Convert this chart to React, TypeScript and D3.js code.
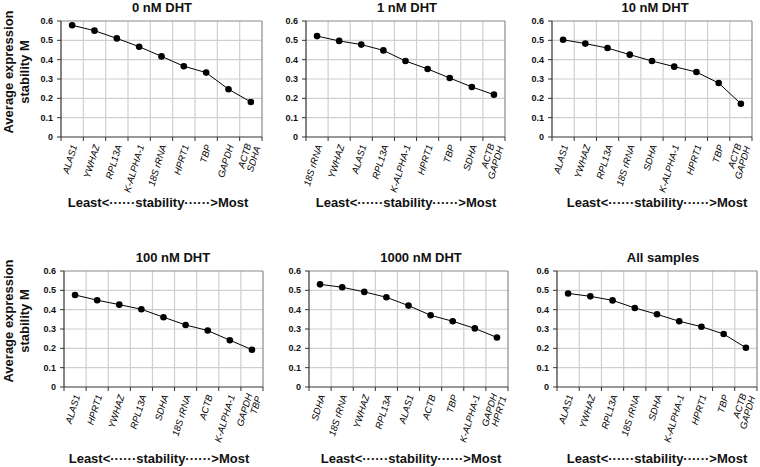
import React from "react";
import * as d3 from "d3";

// ---- data ----
const panelTitles = ["0 nM DHT", "1 nM DHT", "10 nM DHT", "100 nM DHT", "1000 nM DHT", "All samples"];

const genes0 = ["ALAS1", "YWHAZ", "RPL13A", "K-ALPHA-1", "18S rRNA", "HPRT1", "TBP", "GAPDH", "ACTB\nSDHA"];
const values0 = [0.578, 0.55, 0.51, 0.467, 0.417, 0.366, 0.333, 0.247, 0.181];

const genes1 = ["18S rRNA", "YWHAZ", "ALAS1", "RPL13A", "K-ALPHA-1", "HPRT1", "TBP", "SDHA", "ACTB\nGAPDH"];
const values1 = [0.522, 0.497, 0.478, 0.448, 0.393, 0.352, 0.305, 0.259, 0.219];

const genes10 = ["ALAS1", "YWHAZ", "RPL13A", "18S rRNA", "SDHA", "K-ALPHA-1", "HPRT1", "TBP", "ACTB\nGAPDH"];
const values10 = [0.503, 0.483, 0.46, 0.426, 0.393, 0.364, 0.336, 0.279, 0.172];

const genes100 = ["ALAS1", "HPRT1", "YWHAZ", "RPL13A", "SDHA", "18S rRNA", "ACTB", "K-ALPHA-1", "GAPDH\nTBP"];
const values100 = [0.476, 0.449, 0.426, 0.402, 0.361, 0.321, 0.292, 0.242, 0.193];

const genes1000 = ["SDHA", "18S rRNA", "YWHAZ", "RPL13A", "ALAS1", "ACTB", "TBP", "K-ALPHA-1", "GAPDH\nHPRT1"];
const values1000 = [0.531, 0.516, 0.492, 0.464, 0.421, 0.371, 0.34, 0.303, 0.256];

const genesAll = ["ALAS1", "YWHAZ", "RPL13A", "18S rRNA", "SDHA", "K-ALPHA-1", "HPRT1", "TBP", "ACTB\nGAPDH"];
const valuesAll = [0.484, 0.469, 0.448, 0.409, 0.376, 0.34, 0.312, 0.274, 0.203];

const yTicks = [0, 0.1, 0.2, 0.3, 0.4, 0.5, 0.6];
const yAxisTitle = ["Average expression", "stability M"];
const xAxisTitle = "Least<······stability······>Most";

const panelGenes = [genes0, genes1, genes10, genes100, genes1000, genesAll];
const panelValues = [values0, values1, values10, values100, values1000, valuesAll];

// ---- layout ----
const layout = [
  { x0: 61, x1: 262, y0: 21, y1: 137, tx: 162, ty: 12, sx: 158, sy: 207 },
  { x0: 306, x1: 505, y0: 21, y1: 137, tx: 407, ty: 12, sx: 406, sy: 207 },
  { x0: 552, x1: 752, y0: 21, y1: 137, tx: 655, ty: 12, sx: 657, sy: 207 },
  { x0: 64, x1: 263, y0: 271, y1: 387, tx: 173, ty: 262, sx: 159, sy: 463 },
  { x0: 309, x1: 508, y0: 271, y1: 387, tx: 421, ty: 262, sx: 411, sy: 463 },
  { x0: 557, x1: 757, y0: 271, y1: 387, tx: 663, ty: 262, sx: 657, sy: 463 },
];
const yTitleCenters = [72, 321];

const FONT = "Arial, 'Liberation Sans', Helvetica, sans-serif";

function Panel({ idx }: { idx: number }) {
  const L = layout[idx];
  const genes = panelGenes[idx];
  const vals = panelValues[idx];
  const x = d3.scaleBand<string>().domain(genes).range([L.x0, L.x1]).padding(0);
  const y = d3.scaleLinear().domain([0, 0.6]).range([L.y1, L.y0]);
  const bw = x.bandwidth();
  const cx = (g: string) => (x(g) as number) + bw / 2;
  const line = d3
    .line<number>()
    .x((_, i) => cx(genes[i]))
    .y((v) => y(v));
  const bounds = d3.range(genes.length + 1).map((i) => L.x0 + i * bw);

  return (
    <g>
      {yTicks.slice(1, -1).map((t) => (
        <line key={"h" + t} x1={L.x0} x2={L.x1} y1={y(t)} y2={y(t)} stroke="#cfcfcf" strokeWidth={1.2} />
      ))}
      {bounds.slice(1, -1).map((b, i) => (
        <line key={"v" + i} x1={b} x2={b} y1={L.y0} y2={L.y1} stroke="#cfcfcf" strokeWidth={1.2} />
      ))}
      <line x1={L.x0} x2={L.x1} y1={L.y0} y2={L.y0} stroke="#8a8a8a" strokeWidth={1.2} />
      <line x1={L.x1} x2={L.x1} y1={L.y0} y2={L.y1} stroke="#8a8a8a" strokeWidth={1.2} />
      <line x1={L.x0} x2={L.x0} y1={L.y0} y2={L.y1} stroke="#333" strokeWidth={1.2} />
      <line x1={L.x0} x2={L.x1} y1={L.y1} y2={L.y1} stroke="#333" strokeWidth={1.2} />
      {yTicks.map((t) => (
        <g key={"yt" + t}>
          <line x1={L.x0 - 4} x2={L.x0} y1={y(t)} y2={y(t)} stroke="#333" strokeWidth={1} />
          <text x={L.x0 - 8} y={y(t)} dy="0.35em" textAnchor="end" fontSize={9} fontWeight="bold" fontFamily={FONT} fill="#111">
            {t === 0 ? "0" : t.toFixed(1)}
          </text>
        </g>
      ))}
      {bounds.map((b, i) => (
        <line key={"xt" + i} x1={b} x2={b} y1={L.y1} y2={L.y1 + 4} stroke="#333" strokeWidth={1} />
      ))}
      {genes.map((g) => {
        const parts = g.split("\n");
        const ax = cx(g) + 2;
        const ay = L.y1 + 8;
        return (
          <text
            key={"c" + g}
            transform={`translate(${ax},${ay}) rotate(-73)`}
            textAnchor="end"
            fontSize={9.5}
            fontStyle="italic"
            fontFamily={FONT}
            fill="#000"
          >
            {parts.map((p, k) => (
              <tspan key={k} x={0} y={(k - (parts.length - 1) / 2) * 9.5} dy="0.35em">
                {p}
              </tspan>
            ))}
          </text>
        );
      })}
      <path d={line(vals) || ""} fill="none" stroke="#000" strokeWidth={1} />
      {vals.map((v, i) => (
        <circle key={"p" + i} cx={cx(genes[i])} cy={y(v)} r={3.3} fill="#000" />
      ))}
      <text x={L.tx} y={L.ty} textAnchor="middle" fontSize={13} fontWeight="bold" fontFamily={FONT} fill="#111">
        {panelTitles[idx]}
      </text>
      <text x={L.sx} y={L.sy} textAnchor="middle" fontSize={13} fontWeight="bold" fontFamily={FONT} fill="#111">
        {xAxisTitle}
      </text>
    </g>
  );
}

export default function App() {
  return (
    <svg width={760} height={467} style={{ position: "absolute", left: 0, top: 0, background: "#fff" }}>
      <rect width={760} height={467} fill="#fff" />
      {yTitleCenters.map((c, r) => (
        <g key={"yt" + r}>
          <text transform={`translate(13,${c}) rotate(-90)`} textAnchor="middle" fontSize={13} fontWeight="bold" fontFamily={FONT} fill="#111">
            {yAxisTitle[0]}
          </text>
          <text transform={`translate(29,${c}) rotate(-90)`} textAnchor="middle" fontSize={13} fontWeight="bold" fontFamily={FONT} fill="#111">
            {yAxisTitle[1]}
          </text>
        </g>
      ))}
      {layout.map((_, i) => (
        <Panel key={i} idx={i} />
      ))}
    </svg>
  );
}
